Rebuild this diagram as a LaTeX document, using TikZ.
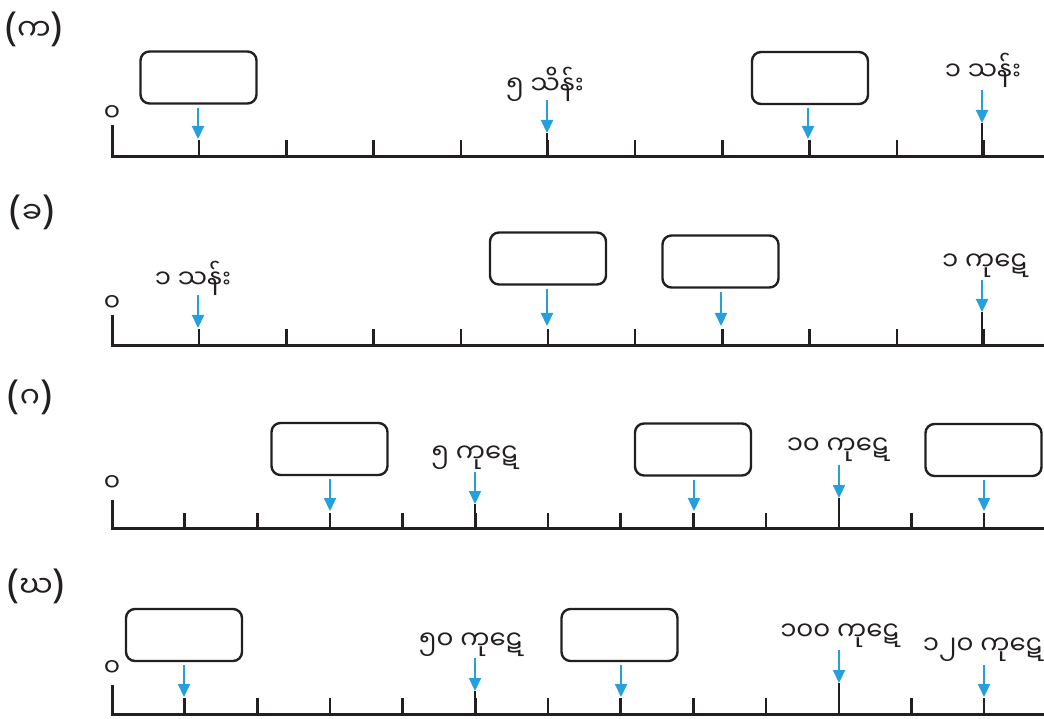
\documentclass[tikz,border=0pt]{standalone}
\usepackage{fontspec}
\newfontfamily\mya[Script=Myanmar]{Noto Sans Myanmar UI}
\newfontfamily\parfont{Noto Sans}
\usetikzlibrary{arrows.meta}
\definecolor{arrblue}{RGB}{38,160,220}
\definecolor{ink}{RGB}{35,31,32}
\newcommand\plab[1]{{\parfont\fontsize{40}{44}\selectfont(}{\mya\fontsize{30}{34}\selectfont #1}{\parfont\fontsize{40}{44}\selectfont)}}
\begin{document}
\begin{tikzpicture}[x=1pt,y=-1pt,
  axisline/.style={draw=ink,line width=3pt},
  tk/.style={draw=ink,line width=2.4pt},
  valbox/.style={draw=ink,line width=2.4pt,rounded corners=9pt,minimum width=116pt,minimum height=52pt,inner sep=0pt,fill=white},
  bluearr/.style={draw=arrblue,line width=2.2pt,-{Triangle[width=12pt,length=13pt]}},
  lbl/.style={font=\mya\fontsize{26}{30}\selectfont,text=ink,inner sep=0pt},
  zero/.style={font=\mya\fontsize{25}{28}\selectfont,text=ink,inner sep=0pt},
  plabel/.style={text=ink,inner sep=0pt}]
\useasboundingbox[fill=white] (0,0) rectangle (1044,719);

% ---------------- Panel (a) ----------------
\node[plabel] (pa) at (34,29) {\plab{က}};
\draw[axisline] (112,125) -- (112,157) -- (1044,157);
\node[zero] (za) at (112,114) {၀};
\foreach \k in {1,...,10} \draw[tk] ({112+87.2*\k},157) -- ++(0,-17);
\node[valbox] (a1) at (198.5,77.5) {};
\coordinate (a1t) at (198,139);
\draw[bluearr] (a1t |- a1.south) ++(0,3) -- (a1t);
\node[lbl] (a2) at (545,84) {၅ သိန်း};
\coordinate (a2s) at (547,100); \coordinate (a2t) at (547,133);
\draw[bluearr] (a2s) -- (a2t); \draw[tk] (a2t) -- (547,157);
\node[valbox] (a3) at (810,78) {};
\coordinate (a3t) at (808,139);
\draw[bluearr] (a3t |- a3.south) ++(0,3) -- (a3t);
\node[lbl] (a4) at (983,70) {၁ သန်း};
\coordinate (a4s) at (982,90); \coordinate (a4t) at (982,123);
\draw[bluearr] (a4s) -- (a4t); \draw[tk] (a4t) -- (982,157);

% ---------------- Panel (b) ----------------
\node[plabel] (pb) at (32,212) {\plab{ခ}};
\draw[axisline] (112,315) -- (112,345) -- (1044,345);
\node[zero] (zb) at (112,304) {၀};
\foreach \k in {1,...,10} \draw[tk] ({112+87.2*\k},345) -- ++(0,-16);
\node[lbl] (b1) at (193,278) {၁ သန်း};
\coordinate (b1s) at (198,295); \coordinate (b1t) at (198,328);
\draw[bluearr] (b1s) -- (b1t);
\node[valbox] (b2) at (548,258.5) {};
\coordinate (b2t) at (547,326);
\draw[bluearr] (b2t |- b2.south) ++(0,3) -- (b2t);
\node[valbox] (b3) at (720.5,261.5) {};
\coordinate (b3t) at (721,326);
\draw[bluearr] (b3t |- b3.south) ++(0,3) -- (b3t);
\node[lbl] (b4) at (985,266) {၁ ကုဋေ};
\coordinate (b4s) at (982,280); \coordinate (b4t) at (982,312);
\draw[bluearr] (b4s) -- (b4t); \draw[tk] (b4t) -- (982,345);

% ---------------- Panel (c) ----------------
\node[plabel] (pc) at (30,397) {\plab{ဂ}};
\draw[axisline] (112,500) -- (112,528) -- (1044,528);
\node[zero] (zc) at (112,483) {၀};
\foreach \k in {1,...,12} \draw[tk] ({112+72.67*\k},528) -- ++(0,-15);
\node[valbox] (c1) at (329.5,449) {};
\coordinate (c1t) at (330,511);
\draw[bluearr] (c1t |- c1.south) ++(0,3) -- (c1t);
\node[lbl] (c2) at (475,458) {၅ ကုဋေ};
\coordinate (c2s) at (475,472); \coordinate (c2t) at (475,504);
\draw[bluearr] (c2s) -- (c2t); \draw[tk] (c2t) -- (475,528);
\node[valbox] (c3) at (693,449.5) {};
\coordinate (c3t) at (694,511);
\draw[bluearr] (c3t |- c3.south) ++(0,3) -- (c3t);
\node[lbl] (c4) at (838,450) {၁၀ ကုဋေ};
\coordinate (c4s) at (839,465); \coordinate (c4t) at (839,498);
\draw[bluearr] (c4s) -- (c4t); \draw[tk] (c4t) -- (839,528);
\node[valbox] (c5) at (983.5,450) {};
\coordinate (c5t) at (984,511);
\draw[bluearr] (c5t |- c5.south) ++(0,3) -- (c5t);

% ---------------- Panel (d) ----------------
\node[plabel] (pd) at (36,586) {\plab{ဃ}};
\draw[axisline] (112,685) -- (112,714) -- (1044,714);
\node[zero] (zd) at (112,668) {၀};
\foreach \k in {1,...,12} \draw[tk] ({112+72.67*\k},714) -- ++(0,-16);
\node[valbox] (d1) at (184,635) {};
\coordinate (d1t) at (184,697);
\draw[bluearr] (d1t |- d1.south) ++(0,3) -- (d1t);
\node[lbl] (d2) at (471,645) {၅၀ ကုဋေ};
\coordinate (d2s) at (475,658); \coordinate (d2t) at (475,691);
\draw[bluearr] (d2s) -- (d2t); \draw[tk] (d2t) -- (475,714);
\node[valbox] (d3) at (619.5,635) {};
\coordinate (d3t) at (621,697);
\draw[bluearr] (d3t |- d3.south) ++(0,3) -- (d3t);
\node[lbl] (d4) at (840,636) {၁၀၀ ကုဋေ};
\coordinate (d4s) at (839,650); \coordinate (d4t) at (839,683);
\draw[bluearr] (d4s) -- (d4t); \draw[tk] (d4t) -- (839,714);
\node[lbl] (d5) at (983,650) {၁၂၀ ကုဋေ};
\coordinate (d5s) at (984,665); \coordinate (d5t) at (984,697);
\draw[bluearr] (d5s) -- (d5t);
\end{tikzpicture}
\end{document}
